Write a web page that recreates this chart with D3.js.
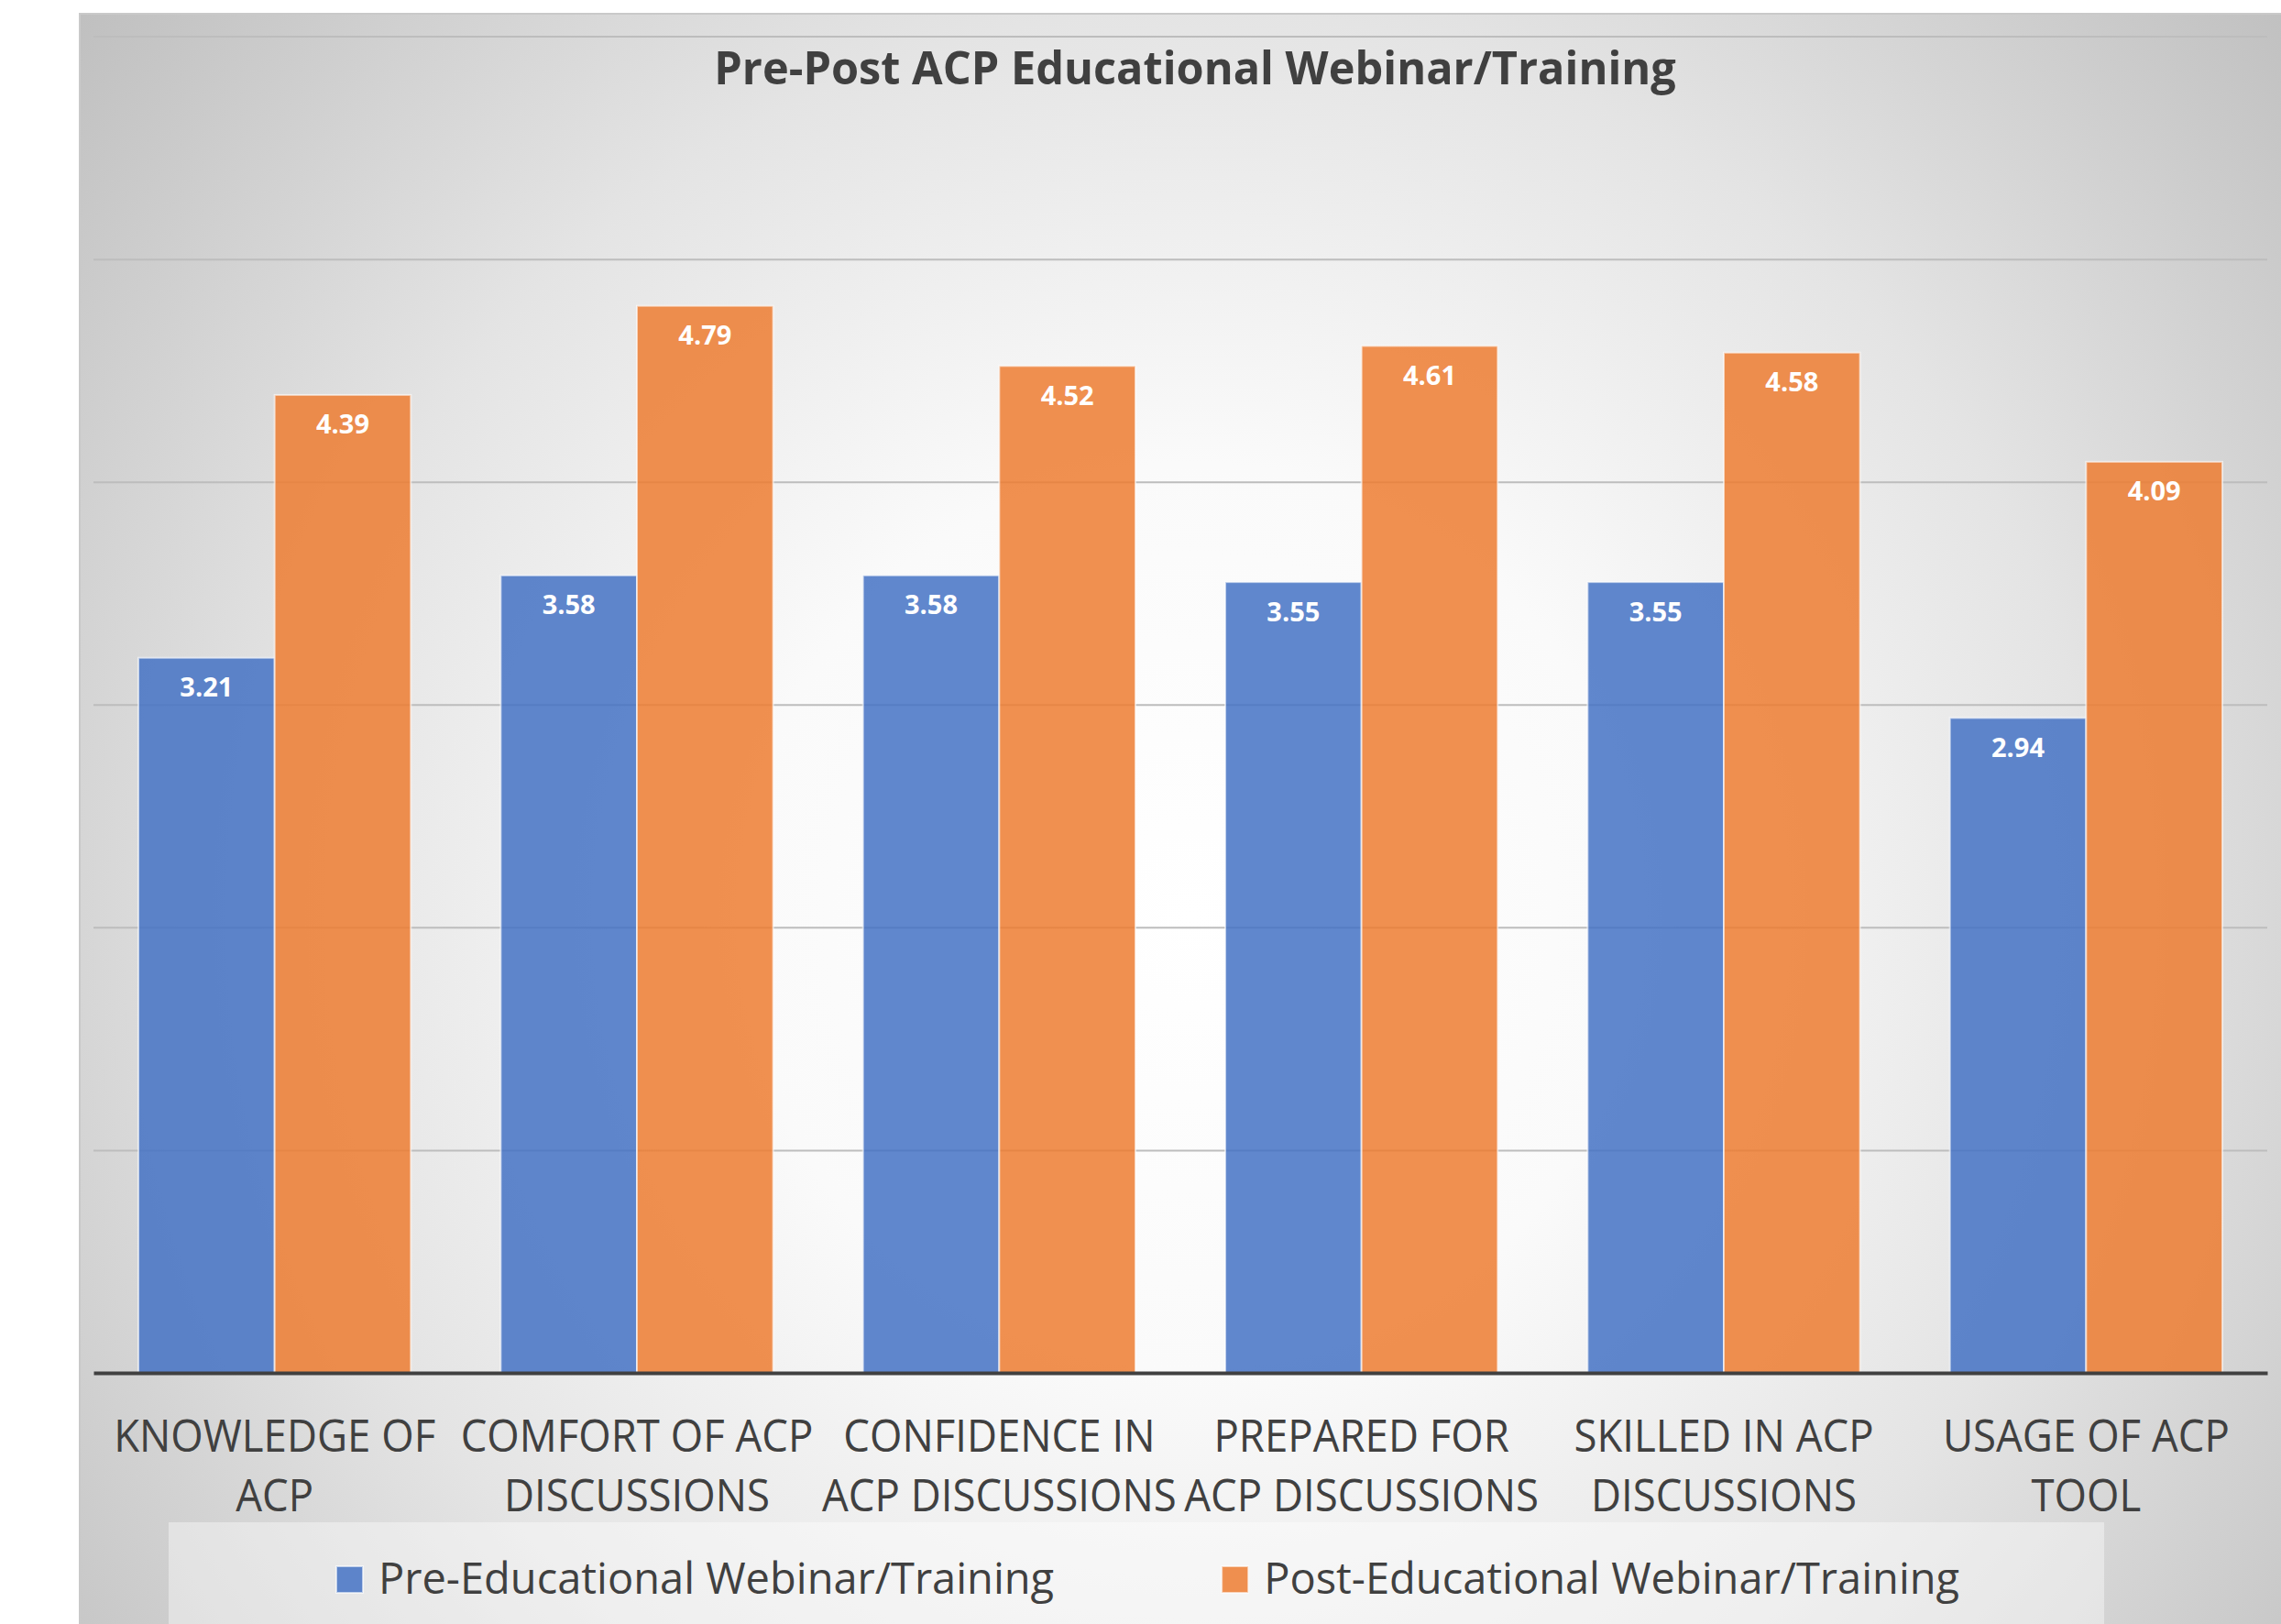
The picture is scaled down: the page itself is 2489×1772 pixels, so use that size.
<!DOCTYPE html>
<html>
<head>
<meta charset="utf-8">
<script src="https://cdn.jsdelivr.net/npm/d3@7"></script>
<style>
  html, body { margin: 0; padding: 0; background: #ffffff; }
  svg { display: block; }
</style>
</head>
<body>
<svg id="chart" width="2489" height="1772"></svg>
<script>
// ---------------- data ----------------
const title = "Pre-Post ACP Educational Webinar/Training";
const categories = [
  "KNOWLEDGE OF ACP",
  "COMFORT OF ACP DISCUSSIONS",
  "CONFIDENCE IN ACP DISCUSSIONS",
  "PREPARED FOR ACP DISCUSSIONS",
  "SKILLED IN ACP DISCUSSIONS",
  "USAGE OF ACP TOOL"
];
const tickLabels = [
  ["KNOWLEDGE OF", "ACP"],
  ["COMFORT OF ACP", "DISCUSSIONS"],
  ["CONFIDENCE IN", "ACP DISCUSSIONS"],
  ["PREPARED FOR", "ACP DISCUSSIONS"],
  ["SKILLED IN ACP", "DISCUSSIONS"],
  ["USAGE OF ACP", "TOOL"]
];
const seriesNames = ["Pre-Educational Webinar/Training", "Post-Educational Webinar/Training"];
const preValues  = [3.21, 3.58, 3.58, 3.55, 3.55, 2.94];
const postValues = [4.39, 4.79, 4.52, 4.61, 4.58, 4.09];
const yTicks = [0, 1, 2, 3, 4, 5, 6];
const seriesColors = ["#4472C4", "#ED7D31"];

// ---------------- layout ----------------
const W = 2489, H = 1772;
const panel = { x: 87, y: 15 };
const plot = { left: 102, right: 2474, top: 39.6, bottom: 1498 };
const textColor = "#404040";
const font = "'Open Sans', 'Noto Sans', Lato, sans-serif";

const svg = d3.select("#chart");

// background gradient
const defs = svg.append("defs");
const grad = defs.append("radialGradient")
  .attr("id", "bg")
  .attr("gradientUnits", "userSpaceOnUse")
  .attr("cx", 1300).attr("cy", 1000).attr("r", 1650);
[[0, "#ffffff"], [0.3, "#fafafa"], [0.6, "#e4e4e4"], [1, "#bababa"]].forEach(([o, c]) =>
  grad.append("stop").attr("offset", o).attr("stop-color", c));

svg.append("rect")
  .attr("x", panel.x).attr("y", panel.y)
  .attr("width", W - panel.x + 20).attr("height", H - panel.y + 20)
  .attr("fill", "url(#bg)")
  .attr("stroke", "#c9c9c9").attr("stroke-width", 2);

// scales
const y = d3.scaleLinear().domain([0, 6]).range([plot.bottom, plot.top]);
const x0 = d3.scaleBand().domain(categories).range([plot.left, plot.right])
  .paddingInner(0).paddingOuter(0);
const x1 = d3.scaleBand().domain(seriesNames).range([0, x0.bandwidth()])
  .paddingInner(0).paddingOuter(0.33);
const color = d3.scaleOrdinal().domain(seriesNames).range(seriesColors);

// gridlines
const grid = svg.append("g")
  .attr("transform", `translate(${plot.left},0)`)
  .call(d3.axisLeft(y).tickValues(yTicks.filter(d => d > 0))
    .tickSize(-(plot.right - plot.left)).tickFormat(""));
grid.select(".domain").remove();
grid.selectAll(".tick line").attr("stroke", "#bdbdbd").attr("stroke-width", 2);

// bars
const rows = categories.map((c, i) => ({ cat: c, vals: [preValues[i], postValues[i]] }));
const groups = svg.append("g").selectAll("g")
  .data(rows).join("g")
  .attr("transform", d => `translate(${x0(d.cat)},0)`);

const barData = d => d.vals.map((v, j) => ({ series: seriesNames[j], value: v }));

groups.selectAll("rect")
  .data(barData).join("rect")
  .attr("x", d => x1(d.series))
  .attr("y", d => y(d.value))
  .attr("width", x1.bandwidth())
  .attr("height", d => y(0) - y(d.value))
  .attr("fill", d => color(d.series))
  .attr("fill-opacity", 0.85)
  .attr("stroke", "#ffffff").attr("stroke-opacity", 0.6).attr("stroke-width", 2);

groups.selectAll("text.val")
  .data(barData).join("text")
  .attr("class", "val")
  .attr("x", d => x1(d.series) + x1.bandwidth() / 2)
  .attr("y", d => y(d.value) + 42.5)
  .attr("text-anchor", "middle")
  .attr("font-family", font).attr("font-weight", 700).attr("font-size", 29)
  .attr("fill", "#ffffff")
  .text(d => d.value.toFixed(2));

// x axis baseline
const xAxis = svg.append("g")
  .attr("transform", `translate(0,${y(0)})`)
  .call(d3.axisBottom(x0).tickSize(0).tickSizeOuter(0).tickFormat(""));
xAxis.select(".domain").attr("stroke", textColor).attr("stroke-width", 4);

// category labels
const catSquash = 0.93;
const labelG = svg.append("g");
categories.forEach((c, i) => {
  const cx = x0(c) + x0.bandwidth() / 2;
  tickLabels[i].forEach((line, k) => {
    labelG.append("text")
      .attr("transform", `translate(${cx},${1584 + k * 65}) scale(${catSquash},1)`)
      .attr("text-anchor", "middle")
      .attr("font-family", font).attr("font-size", 49)
      .attr("fill", textColor)
      .text(line);
  });
});

// title
svg.append("text")
  .attr("transform", `translate(1304,92) scale(0.955,1)`)
  .attr("text-anchor", "middle")
  .attr("font-family", font).attr("font-weight", 700).attr("font-size", 51)
  .attr("fill", textColor)
  .text(title);

// legend
svg.append("rect")
  .attr("x", 184).attr("y", 1661).attr("width", 2112).attr("height", 140)
  .attr("fill", "#ffffff").attr("fill-opacity", 0.4);

const legSquash = 1.0;
let lx = 367;
seriesNames.forEach((s, j) => {
  svg.append("rect")
    .attr("x", lx).attr("y", 1709).attr("width", 29).attr("height", 29)
    .attr("fill", color(s)).attr("fill-opacity", 0.85)
    .attr("stroke", "#ffffff").attr("stroke-opacity", 0.6).attr("stroke-width", 2);
  const t = svg.append("text")
    .attr("transform", `translate(${lx + 46},1739) scale(${legSquash},1)`)
    .attr("font-family", font).attr("font-size", 47)
    .attr("fill", textColor)
    .text(s);
  const w = t.node().getComputedTextLength() * legSquash;
  lx = lx + 46 + w + 183;
});
</script>
</body>
</html>
